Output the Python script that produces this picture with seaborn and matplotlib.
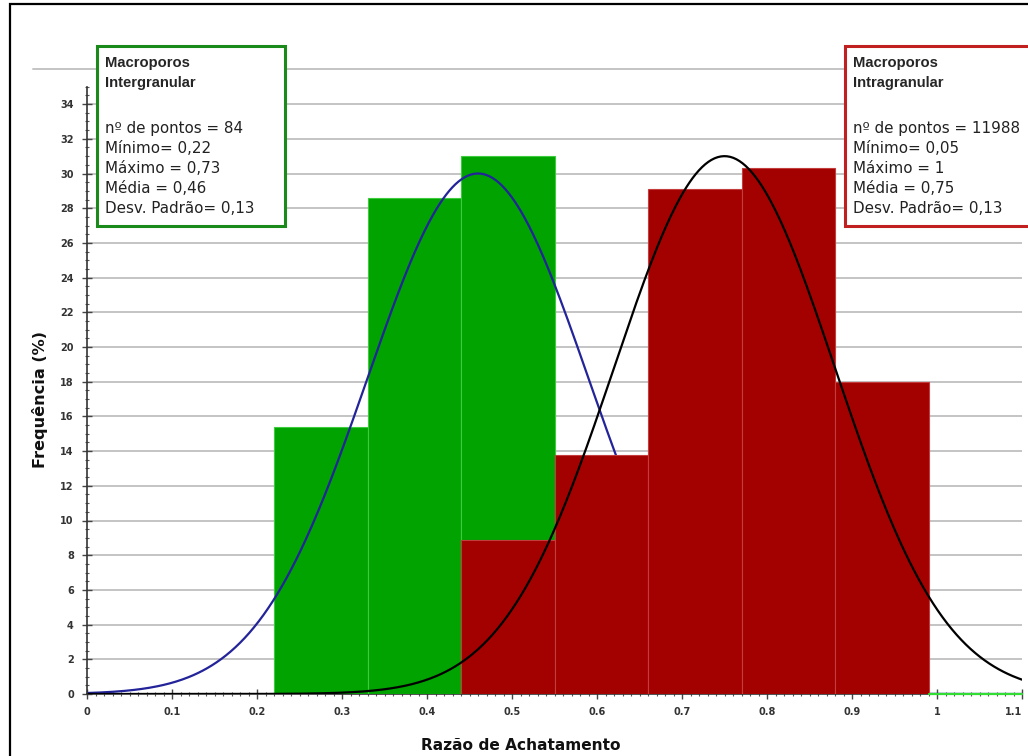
import numpy as np
import pandas as pd
import seaborn as sns
import matplotlib.pyplot as plt
from matplotlib.patches import Rectangle
from matplotlib.ticker import MultipleLocator, FixedLocator

# Histogram bins (Razão de Achatamento) and frequencies (%)
inter_edges = [0.22, 0.33, 0.44, 0.55]
inter_freq = [15.4, 28.6, 31.0]

intra_edges = [0.44, 0.55, 0.66, 0.77, 0.88, 0.99]
intra_freq = [8.9, 13.8, 29.1, 30.3, 18.0]

# Fitted normal curves: mean, std and peak height (%)
inter_mean, inter_std, inter_peak = 0.46, 0.13, 30.0
intra_mean, intra_std, intra_peak = 0.75, 0.13, 31.0

x_ticks = [0, 0.1, 0.2, 0.3, 0.4, 0.5, 0.6, 0.7, 0.8, 0.9, 1, 1.1]
x_tick_labels = ["0", "0.1", "0.2", "0.3", "0.4", "0.5", "0.6", "0.7", "0.8", "0.9", "1", "1.1"]
y_ticks = list(range(0, 36, 2))

inter_lines = ["nº de pontos = 84", "Mínimo= 0,22", "Máximo = 0,73",
               "Média = 0,46", "Desv. Padrão= 0,13"]
intra_lines = ["nº de pontos = 11988", "Mínimo= 0,05", "Máximo = 1",
               "Média = 0,75", "Desv. Padrão= 0,13"]

GREEN = "#00a300"
RED = "#a30000"
BLUE = "#23239a"

sns.set_theme(style="white")
plt.rcParams["font.family"] = ["DejaVu Sans"]

W, H = 1028, 756
fig = plt.figure(figsize=(W / 100, H / 100), dpi=100)
fig.patch.set_facecolor("white")

x0, x1 = 87, 1022
ypix0, ypix_per = 694, 17.35
ytop = 37.0
ax = fig.add_axes([x0 / W, 1 - ypix0 / H, (x1 - x0) / W, ytop * ypix_per / H])
ax.set_facecolor("white")


def centers(edges):
    e = np.asarray(edges)
    return (e[:-1] + e[1:]) / 2


inter_df = pd.DataFrame({"x": centers(inter_edges), "f": inter_freq})
intra_df = pd.DataFrame({"x": centers(intra_edges), "f": intra_freq})

sns.histplot(data=inter_df, x="x", weights="f", bins=inter_edges, ax=ax,
             color=GREEN, alpha=1, edgecolor="#3dcc3d", linewidth=0.8, zorder=2)

xs = np.linspace(0, 1.1, 600)
inter_curve = pd.DataFrame({
    "x": xs,
    "y": inter_peak * np.exp(-0.5 * ((xs - inter_mean) / inter_std) ** 2)})
intra_curve = pd.DataFrame({
    "x": xs,
    "y": intra_peak * np.exp(-0.5 * ((xs - intra_mean) / intra_std) ** 2)})

sns.lineplot(data=inter_curve, x="x", y="y", ax=ax, color=BLUE, lw=1.6, zorder=3)

sns.histplot(data=intra_df, x="x", weights="f", bins=intra_edges, ax=ax,
             color=RED, alpha=1, edgecolor="#c43c3c", linewidth=0.8, zorder=4)

sns.lineplot(data=intra_curve, x="x", y="y", ax=ax, color="black", lw=1.6, zorder=5)

# green baseline segment to the right of the last bin
ax.plot([0.99, 1.1], [0, 0], color="#33dd33", lw=1.6, zorder=6, clip_on=False)

ax.set_xlim(0, 1.1)
ax.set_ylim(0, ytop)

# horizontal grid
for v in y_ticks[1:]:
    ax.axhline(v, color="#c4c4c4", lw=1.4, zorder=0.5)
ax.axhline(36, xmin=-0.058, xmax=1.0, color="#c4c4c4", lw=1.4, zorder=0.5, clip_on=False)

for s in ["top", "right"]:
    ax.spines[s].set_visible(False)
ax.spines["left"].set_bounds(0, 35)
ax.spines["left"].set_color("#333333")
ax.spines["bottom"].set_color("#333333")
ax.spines["left"].set_linewidth(1.2)
ax.spines["bottom"].set_linewidth(1.2)
ax.spines["left"].set_zorder(7)
ax.spines["bottom"].set_zorder(1)

ax.xaxis.set_major_locator(FixedLocator(x_ticks))
ax.set_xticklabels(x_tick_labels)
ax.xaxis.set_minor_locator(MultipleLocator(0.01))
ax.yaxis.set_major_locator(FixedLocator(y_ticks))
ax.set_yticklabels([str(v) for v in y_ticks])
ax.yaxis.set_minor_locator(FixedLocator(np.arange(0, 35.01, 0.5)))
ax.tick_params(axis="both", which="major", direction="inout", length=7, width=1,
               color="#444444", labelsize=7, labelcolor="#333333", pad=6)
ax.tick_params(axis="both", which="minor", direction="inout", length=3.5, width=0.8,
               color="#555555")
ax.tick_params(axis="x", which="both", bottom=True)
ax.tick_params(axis="y", which="both", left=True)
for lab in ax.get_xticklabels() + ax.get_yticklabels():
    lab.set_fontweight("bold")
# keep the last x label inside the figure
ax.get_xticklabels()[-1].set_horizontalalignment("right")

ax.set_xlabel("")
ax.set_ylabel("")
fig.text(521 / W, 1 - 745 / H, "Razão de Achatamento", ha="center", va="center",
         fontsize=11.1, fontweight="bold", color="#111111")
fig.text(40 / W, 1 - 399 / H, "Frequência (%)", ha="center", va="center",
         rotation=90, fontsize=11.6, fontweight="bold", color="#111111")


def info_box(left, top, right, bottom, color, title, lines):
    fig.patches.append(Rectangle((left / W, 1 - bottom / H), (right - left) / W,
                                 (bottom - top) / H, transform=fig.transFigure,
                                 facecolor="white", edgecolor=color, lw=2.2,
                                 zorder=10, clip_on=False))
    tx = (left + 8) / W
    fig.text(tx, 1 - (top + 17) / H, title[0], fontsize=10.6, fontweight="bold",
             family="Liberation Sans", va="center", ha="left", zorder=11)
    fig.text(tx, 1 - (top + 37) / H, title[1], fontsize=10.6, fontweight="bold",
             family="Liberation Sans", va="center", ha="left", zorder=11)
    for i, t in enumerate(lines):
        fig.text(tx, 1 - (top + 83 + i * 19.8) / H, t, fontsize=10.9,
                 family="DejaVu Sans", color="#222222", va="center", ha="left",
                 zorder=11)


info_box(97, 46, 285, 226, "#1a8a1a", ("Macroporos", "Intergranular"), inter_lines)
info_box(845, 46, 1040, 226, "#c02020", ("Macroporos", "Intragranular"), intra_lines)

# outer frame
fig.patches.append(Rectangle((9.5 / W, -0.05), 1.2, 1 - 3.5 / H + 0.05,
                             transform=fig.transFigure, facecolor="none",
                             edgecolor="black", lw=1.6, zorder=12))

fig.savefig("out.png", dpi=100, facecolor="white")
